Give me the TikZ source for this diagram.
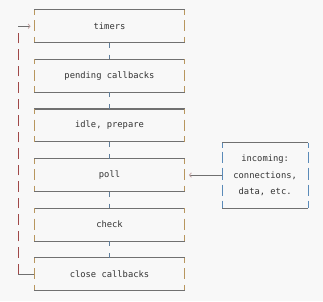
\documentclass[tikz,border=0pt]{standalone}
\usepackage{fontspec}
\setmonofont{DejaVu Sans Mono}
\usetikzlibrary{arrows.meta}
\definecolor{bg}{HTML}{F8F8F8}
\definecolor{edge}{HTML}{707070}
\definecolor{sidec}{HTML}{B8965E}
\definecolor{bluec}{HTML}{5A8AB8}
\definecolor{connc}{HTML}{5F7E9C}
\definecolor{loopc}{HTML}{A04848}
\definecolor{txt}{HTML}{333333}
\definecolor{tipc}{HTML}{C0A0A0}
\tikzset{
  stagebox/.style={draw=none, minimum width=150.4pt, minimum height=32.5pt, inner sep=0pt,
    font=\ttfamily\fontsize{8.8}{16.5}\selectfont, text=txt},
  inbox/.style={draw=none, minimum width=85.7pt, minimum height=65.3pt, inner sep=0pt,
    align=center, font=\ttfamily\fontsize{8.8}{16.5}\selectfont, text=txt},
  hedge/.style={draw=edge, line width=1.1pt},
  mainside/.style={draw=sidec, line width=1.1pt, dash pattern=on 5pt off 5.5pt on 11pt off 5.5pt on 5.5pt},
  inside/.style={draw=bluec, line width=1.1pt, dash pattern=on 5pt off 4pt on 11pt off 5pt on 12pt off 5pt on 11pt off 5pt on 7pt},
  conn/.style={draw=connc, line width=1.1pt, dash pattern=on 5pt off 7pt on 6pt},
  loopv/.style={draw=loopc, line width=1.1pt, dash pattern=on 10.5pt off 6pt},
  looph/.style={draw=edge, line width=1.1pt},
  chev/.style={-{Straight Barb[length=2pt,width=4.5pt,line width=0.8pt,color=tipc]}},
}
\newcommand{\myframe}[2]{%
  \draw[hedge] (#1.north west) -- (#1.north east);
  \draw[hedge] (#1.south west) -- (#1.south east);
  \draw[#2] (#1.north west) -- (#1.south west);
  \draw[#2] (#1.north east) -- (#1.south east);
}
\begin{document}
\begin{tikzpicture}[x=1pt,y=-1pt]
\fill[bg] (0,0) rectangle (323,301);
\useasboundingbox (0,0) rectangle (323,301);

\node[stagebox] (timers)  at (109.5, 26.25) {timers};
\node[stagebox] (pending) at (109.5, 75.85) {pending callbacks};
\node[stagebox] (idle)    at (109.5, 125.45) {idle, prepare};
\node[stagebox] (poll)    at (109.5, 175.05) {poll};
\node[stagebox] (check)   at (109.5, 224.65) {check};
\node[stagebox] (close)   at (109.5, 274.25) {close callbacks};

\node[inbox] (incoming) at (265.15, 175.35) {incoming:\\connections,\\data, etc.};

\myframe{timers}{mainside}
\myframe{pending}{mainside}
\myframe{idle}{mainside}
\myframe{poll}{mainside}
\myframe{check}{mainside}
\myframe{close}{mainside}
\myframe{incoming}{inside}

\draw[conn] (timers.south) -- (pending.north);
\draw[conn] (pending.south) -- (idle.north);
\draw[conn] (idle.south) -- (poll.north);
\draw[conn] (poll.south) -- (check.north);
\draw[conn] (check.south) -- (close.north);

\coordinate (lb) at ([xshift=-16pt]close.west);
\coordinate (lt) at (lb |- timers.west);
\coordinate (tend) at ([xshift=-3.5pt]timers.west);
\draw[looph] (close.west) -- (lb);
\draw[loopv] (lb) -- (lt);
\draw[looph, chev] (lt) -- (tend);

\coordinate (pend) at ([xshift=4pt]poll.east);
\draw[looph, line width=1pt, chev] (incoming.west |- poll.east) -- (pend);
\end{tikzpicture}
\end{document}
